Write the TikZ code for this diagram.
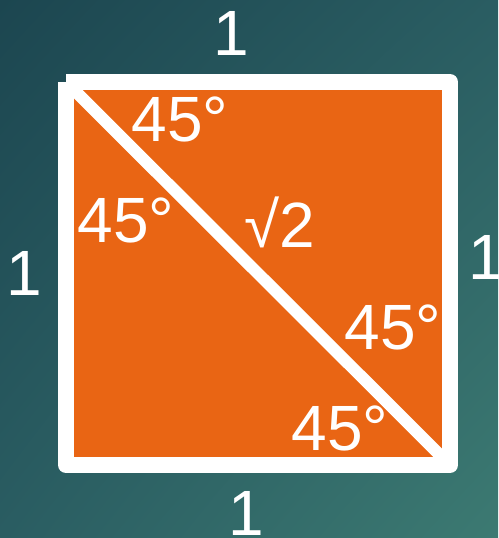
\documentclass[tikz,border=0pt]{standalone}
\usepackage{fontspec}
\setmainfont{Liberation Sans}
\usetikzlibrary{positioning,shadings}
\definecolor{tealdark}{HTML}{1C4650}
\definecolor{teallight}{HTML}{3C7A72}
\definecolor{tealmid}{HTML}{2A5D62}
\definecolor{sqorange}{HTML}{E96514}
\tikzset{
  lbl/.style={text=white,inner sep=0pt,anchor=base,font=\fontsize{64}{64}\selectfont},
  edge/.style={white,line width=16pt,line join=round,line cap=butt},
  diag/.style={white,line width=12pt,line cap=butt}
}
\begin{document}
\begin{tikzpicture}[x=1pt,y=-1pt]
    \shade[upper left=tealdark,upper right=tealmid,lower left=tealmid,lower right=teallight]
      (0,0) rectangle (498,538);
    \useasboundingbox (0,0) rectangle (498,538);
    \coordinate (tl) at (66,82);
    \coordinate (tr) at (450,82);
    \coordinate (br) at (450,465);
    \coordinate (bl) at (66,465);
    \fill[sqorange] (tl) rectangle (br);
    \draw[diag] (tl) -- (br);
    \draw[edge] (tl) -- (tr) -- (br) -- (bl) -- (tl);
    \node[lbl] (top) at (231.5,55) {1};
    \node[lbl] (bottom) at (246.5,535) {1};
    \node[lbl] (left) at (24.5,295) {1};
    \node[lbl] (right) at (486.5,279) {1};
    \node[lbl] (hyp) at (280,247) {√2};
    \node[lbl] (angtl) at (180,141) {45°};
    \node[lbl] (angbl) at (126,242) {45°};
    \node[lbl] (angtr) at (393,349) {45°};
    \node[lbl] (angbr) at (340,450) {45°};
  \end{tikzpicture}
\end{document}
